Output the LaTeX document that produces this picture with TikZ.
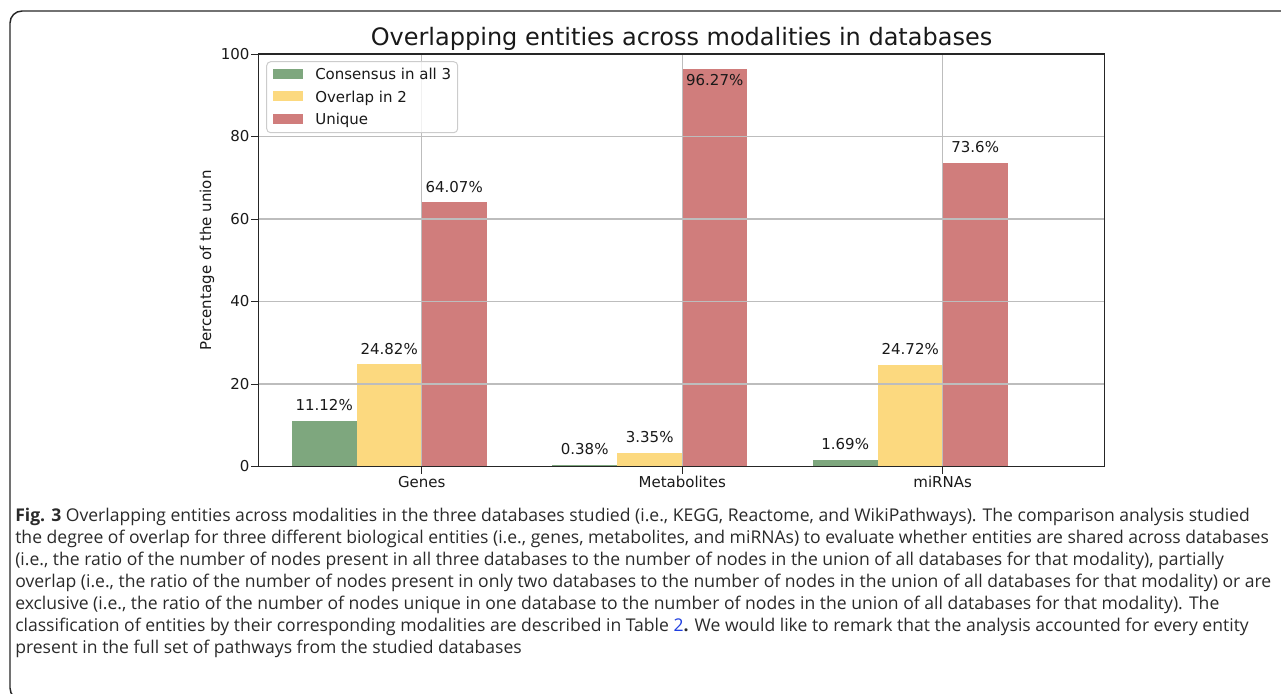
\documentclass[tikz,border=0pt]{standalone}
\usepackage{fontspec}
\setmainfont{Open Sans}
\newfontfamily\plotfont{DejaVu Sans}

\definecolor{barGreen}{HTML}{7EA77E}
\definecolor{barGold}{HTML}{FCD97F}
\definecolor{barRed}{HTML}{D07D7C}
\definecolor{gridGray}{HTML}{BDBDBD}
\definecolor{inkText}{HTML}{2A2A2A}
\definecolor{refBlue}{HTML}{1F3FE0}

\newlength\capw

\tikzset{
  spine/.style={draw=black!85, line width=1pt},
  gridline/.style={draw=gridGray, line width=0.8pt},
  tickmark/.style={draw=black!85, line width=0.75pt},
  plottext/.style={inner sep=0pt, text=black!90, font=\plotfont\fontsize{11.25pt}{13pt}\selectfont},
  ytick/.style={plottext, anchor=east},
  xtick/.style={plottext, anchor=base},
  barlabel/.style={plottext, anchor=base},
  legendtext/.style={plottext, anchor=base west},
  titletext/.style={inner sep=0pt, text=black!90, anchor=base, font=\plotfont\fontsize{18pt}{21pt}\selectfont},
  legendbox/.style={draw=black!20, line width=0.75pt, fill=white, fill opacity=0.8, rounded corners=3},
  framebox/.style={draw=black!85, line width=1.1pt, rounded corners=9},
}

\begin{document}
% caption font size chosen so that the longest line fills the measure
\settowidth\capw{\fontsize{12pt}{14pt}\selectfont overlap (i.e., the ratio of the number of nodes present in only two databases to the number of nodes in the union of all databases for that modality) or are}%
\pgfmathsetmacro\capsize{12*942/\capw}%
\begin{tikzpicture}[x=0.75pt, y=-0.75pt]
  \useasboundingbox (0,0) rectangle (1281,693);
  \tikzset{capstyle/.style={inner sep=0pt, anchor=base west, text=inkText,
      font=\fontsize{\capsize pt}{\capsize pt}\selectfont}}

  % outer figure frame (open to the right and bottom)
  \begin{scope}
    \clip (0,0) rectangle (1281,693);
    \draw[framebox] (10,11) rectangle (1330,700);
  \end{scope}

  % ---- bars ----
  % Genes
  \fill[barGreen] (291.7,466.5) rectangle (356.7,{466.5-4.125*11.12});
  \fill[barGold]  (356.7,466.5) rectangle (421.7,{466.5-4.125*24.82});
  \fill[barRed]   (421.7,466.5) rectangle (486.7,{466.5-4.125*64.07});
  % Metabolites
  \fill[barGreen] (552.2,466.5) rectangle (617.2,{466.5-4.125*0.38});
  \fill[barGold]  (617.2,466.5) rectangle (682.2,{466.5-4.125*3.35});
  \fill[barRed]   (682.2,466.5) rectangle (747.2,{466.5-4.125*96.27});
  % miRNAs
  \fill[barGreen] (812.7,466.5) rectangle (877.7,{466.5-4.125*1.69});
  \fill[barGold]  (877.7,466.5) rectangle (942.7,{466.5-4.125*24.72});
  \fill[barRed]   (942.7,466.5) rectangle (1007.7,{466.5-4.125*73.6});

  % ---- grid ----
  \foreach \v in {20,40,60,80}
    \draw[gridline] (258.3,{466.5-4.125*\v}) -- (1104.7,{466.5-4.125*\v});
  \foreach \t in {421.7,682.2,942.7}
    \draw[gridline] (\t,54) -- (\t,466.5);

  % ---- axes frame ----
  \draw[spine] (258.3,54) rectangle (1104.7,466.5);

  % ---- y ticks ----
  \foreach \v in {0,20,40,60,80,100} {
    \draw[tickmark] (251.3,{466.5-4.125*\v}) -- (258.3,{466.5-4.125*\v});
    \node[ytick] (ytick-\v) at (249.8,{466.5-4.125*\v}) {\v};
  }

  % ---- x ticks ----
  \foreach \t/\name/\lab in {421.7/genes/Genes, 682.2/metab/Metabolites, 942.7/mirna/miRNAs} {
    \draw[tickmark] (\t,466.5) -- (\t,473.5);
    \node[xtick] (xtick-\name) at (\t,487.5) {\lab};
  }

  % ---- axis label and title ----
  \node[plottext, rotate=90, anchor=south] (ylabel) at (214.5,260.25) {Percentage of the union};
  \node[titletext] (title) at (681.5,45) {Overlapping entities across modalities in databases};

  % ---- bar value labels ----
  \node[barlabel] (lab-g1) at (324.2,{456.5-4.125*11.12}) {11.12\%};
  \node[barlabel] (lab-g2) at (389.2,{456.5-4.125*24.82}) {24.82\%};
  \node[barlabel] (lab-g3) at (454.2,{456.5-4.125*64.07}) {64.07\%};
  \node[barlabel] (lab-m1) at (584.7,{456.5-4.125*0.38}) {0.38\%};
  \node[barlabel] (lab-m2) at (649.7,{456.5-4.125*3.35}) {3.35\%};
  \node[barlabel] (lab-m3) at (714.7,85) {96.27\%};
  \node[barlabel] (lab-r1) at (845.2,{456.5-4.125*1.69}) {1.69\%};
  \node[barlabel] (lab-r2) at (910.2,{456.5-4.125*24.72}) {24.72\%};
  \node[barlabel] (lab-r3) at (975.2,{456.5-4.125*73.6}) {73.6\%};

  % ---- legend ----
  \draw[legendbox] (266.7,61.7) rectangle (457.7,132.7);
  \fill[barGreen] (272.7,69.0) rectangle (303.3,79.0);
  \fill[barGold]  (272.7,91.4) rectangle (303.3,101.4);
  \fill[barRed]   (272.7,113.8) rectangle (303.3,123.8);
  \node[legendtext] (leg-consensus) at (315,79.8) {Consensus in all 3};
  \node[legendtext] (leg-overlap)   at (315,102.2) {Overlap in 2};
  \node[legendtext] (leg-unique)    at (315,124.6) {Unique};

  % ---- caption ----
  \node[capstyle] (cap1) at (15,521) {\textbf{Fig. 3} Overlapping entities across modalities in the three databases studied (i.e., KEGG, Reactome, and WikiPathways). The comparison analysis studied};
  \node[capstyle] (cap2) at (15,543) {the degree of overlap for three different biological entities (i.e., genes, metabolites, and miRNAs) to evaluate whether entities are shared across databases};
  \node[capstyle] (cap3) at (15,565) {(i.e., the ratio of the number of nodes present in all three databases to the number of nodes in the union of all databases for that modality), partially};
  \node[capstyle] (cap4) at (15,587) {overlap (i.e., the ratio of the number of nodes present in only two databases to the number of nodes in the union of all databases for that modality) or are};
  \node[capstyle] (cap5) at (15,609) {exclusive (i.e., the ratio of the number of nodes unique in one database to the number of nodes in the union of all databases for that modality). The};
  \node[capstyle] (cap6) at (15,631) {classification of entities by their corresponding modalities are described in Table {\color{refBlue}2}\textbf{.} We would like to remark that the analysis accounted for every entity};
  \node[capstyle] (cap7) at (15,653) {present in the full set of pathways from the studied databases};
\end{tikzpicture}
\end{document}
